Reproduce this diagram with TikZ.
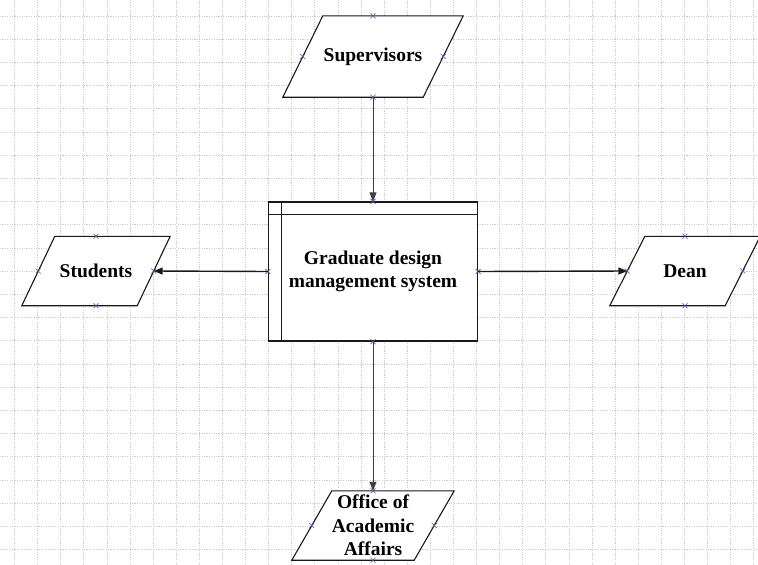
\documentclass[tikz,border=0pt]{standalone}
\usepackage{fontspec}
\setmainfont{Liberation Serif}
\usetikzlibrary{arrows.meta}
\pgfdeclarelayer{gridlayer}
\pgfdeclarelayer{shapelayer}
\pgfsetlayers{gridlayer,shapelayer,main}
\begin{document}
\begin{tikzpicture}[x=1pt,y=-1pt,
  gridline/.style={draw=black!20, line width=0.7pt, dash pattern=on 1.2pt off 1.2pt},
  lbl/.style={font=\bfseries\fontsize{19.5}{23.5}\selectfont, align=center, text=black},
  io/.style={rectangle, draw=none, inner sep=0pt, lbl},
  ioline/.style={draw=black!90, line width=1.1pt, fill=white, line join=miter},
  sysbox/.style={rectangle, draw=black!90, line width=1.2pt, fill=white, inner sep=0pt, lbl},
  cp/.style={draw=blue!35!gray, line width=0.6pt},
  thinconn/.style={draw=black!75, line width=0.8pt, -{Triangle[length=9pt,width=7pt]}},
  thickconn/.style={draw=black!90, line width=1.4pt, -{Triangle[length=9pt,width=7pt]}}]
\useasboundingbox (0,0) rectangle (758,565);
\begin{pgfonlayer}{gridlayer}
\fill[white] (0,0) rectangle (758,565);
\foreach \k in {0,...,32} \draw[gridline] ({14.5+23.1*\k},0) -- ({14.5+23.1*\k},565);
\foreach \k in {0,...,23} \draw[gridline] (0,{16+23.2*\k}) -- (758,{16+23.2*\k});
\end{pgfonlayer}

\node[io, minimum width=140pt, minimum height=81pt] (sup) at (373,56.5) {Supervisors};
\node[io, minimum width=115pt, minimum height=69pt] (stu) at (96,271) {Students};
\node[io, minimum width=115pt, minimum height=69pt] (dean) at (685,271) {Dean};
\node[io, minimum width=122pt, minimum height=69pt] (off) at (373,525.5) {Office of\\Academic\\Affairs};
\node[sysbox, minimum width=209pt, minimum height=139pt] (sys) at (373,271.5) {Graduate design\\management system};

\begin{pgfonlayer}{shapelayer}
\path[ioline] ([xshift=20pt]sup.north west) -- ([xshift=20pt]sup.north east) -- ([xshift=-20pt]sup.south east) -- ([xshift=-20pt]sup.south west) -- cycle;
\path[ioline] ([xshift=16.5pt]stu.north west) -- ([xshift=16.5pt]stu.north east) -- ([xshift=-16.5pt]stu.south east) -- ([xshift=-16.5pt]stu.south west) -- cycle;
\path[ioline] ([xshift=17.5pt]dean.north west) -- ([xshift=17.5pt]dean.north east) -- ([xshift=-17.5pt]dean.south east) -- ([xshift=-17.5pt]dean.south west) -- cycle;
\path[ioline] ([xshift=20pt]off.north west) -- ([xshift=20pt]off.north east) -- ([xshift=-20pt]off.south east) -- ([xshift=-20pt]off.south west) -- cycle;
\end{pgfonlayer}

\draw[black!90, line width=0.9pt] ([yshift=-13pt]sys.north west) -- ([yshift=-13pt]sys.north east);
\draw[black!90, line width=0.9pt] ([xshift=14pt]sys.north west) -- ([xshift=14pt]sys.south west);

\foreach \n in {sup,stu,dean,off,sys}
  \foreach \a in {north,south,east,west}
    \draw[cp] (\n.\a) +(-2.5,-2.5) -- +(2.5,2.5) +(-2.5,2.5) -- +(2.5,-2.5);

\draw[thinconn] (sup.south) -- (sys.north);
\draw[thickconn] (sys.west) -- (stu.east);
\draw[thickconn] (sys.east) -- (dean.west);
\draw[thinconn] (sys.south) -- (off.north);
\end{tikzpicture}
\end{document}
